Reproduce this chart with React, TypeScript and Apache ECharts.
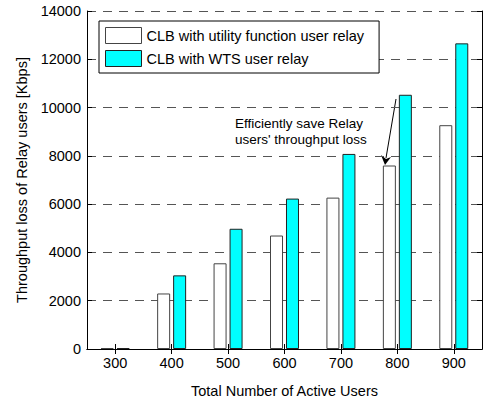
import React, { useEffect, useRef } from "react";
import * as echarts from "echarts";

const categories = ["300", "400", "500", "600", "700", "800", "900"];
const utilitySeries = [40, 2300, 3550, 4700, 6270, 7600, 9270];
const wtsSeries = [40, 3050, 4980, 6230, 8080, 10530, 12660];
const yTicks = { min: 0, max: 14000, interval: 2000 };
const seriesNames = ["CLB with utility function user relay", "CLB with WTS user relay"];
const annotationLines = ["Efficiently save Relay", "users' throughput loss"];

const FONT = 'Arial, "Liberation Sans", Helvetica, sans-serif';

export default function App() {
  const ref = useRef<HTMLDivElement>(null);
  useEffect(() => {
    if (!ref.current) return;
    const chart = echarts.init(ref.current, null, { renderer: "svg" });
    const axisLine = { show: true, lineStyle: { color: "#000", width: 1 } };
    chart.setOption({
      animation: false,
      backgroundColor: "#fff",
      textStyle: { fontFamily: FONT },
      grid: { left: 87, right: 2, top: 11, bottom: 44, containLabel: false },
      legend: {
        orient: "vertical",
        left: 99,
        top: 21,
        itemWidth: 36,
        itemHeight: 16,
        itemGap: 6,
        padding: [6, 15, 6, 6],
        borderColor: "#000",
        borderWidth: 1,
        borderRadius: 0,
        backgroundColor: "#fff",
        icon: "rect",
        textStyle: { fontFamily: FONT, fontSize: 14.5, color: "#000" },
        data: [
          { name: seriesNames[0], itemStyle: { color: "#fff", borderColor: "#444", borderWidth: 1 } },
          { name: seriesNames[1], itemStyle: { color: "#00ffff", borderColor: "#222", borderWidth: 1 } },
        ],
      },
      xAxis: [
        {
          type: "category",
          data: categories,
          position: "bottom",
          axisLine,
          axisTick: { show: true, inside: true, alignWithLabel: true, length: 5, lineStyle: { color: "#000" } },
          axisLabel: { color: "#000", fontSize: 14.5, fontFamily: FONT, margin: 6 },
          name: "Total Number of Active Users",
          nameLocation: "middle",
          nameGap: 34,
          nameTextStyle: { color: "#000", fontSize: 14.5, fontFamily: FONT },
          splitLine: { show: false },
        },
        {
          type: "category",
          data: categories,
          position: "top",
          axisLine,
          axisTick: { show: true, inside: true, alignWithLabel: true, length: 5, lineStyle: { color: "#000" } },
          axisLabel: { show: false },
          splitLine: { show: false },
        },
      ],
      yAxis: [
        {
          type: "value",
          min: yTicks.min,
          max: yTicks.max,
          interval: yTicks.interval,
          position: "left",
          axisLine,
          axisTick: { show: true, inside: true, length: 5, lineStyle: { color: "#000" } },
          axisLabel: {
            color: "#000",
            fontSize: 14.5,
            fontFamily: FONT,
            margin: 6,
            formatter: (v: number) => String(v),
          },
          splitLine: { show: true, lineStyle: { color: "#555", width: 1, type: [9, 7] } },
          name: "Throughput loss of Relay users [Kbps]",
          nameLocation: "middle",
          nameGap: 58,
          nameTextStyle: { color: "#000", fontSize: 14.5, fontFamily: FONT },
        },
        {
          type: "value",
          min: yTicks.min,
          max: yTicks.max,
          interval: yTicks.interval,
          position: "right",
          axisLine,
          axisTick: { show: true, inside: true, length: 5, lineStyle: { color: "#000" } },
          axisLabel: { show: false },
          splitLine: { show: false },
        },
      ],
      series: [
        {
          name: seriesNames[0],
          type: "bar",
          data: utilitySeries,
          barWidth: 13,
          barGap: "23%",
          itemStyle: { color: "#fff", borderColor: "#444", borderWidth: 1 },
        },
        {
          name: seriesNames[1],
          type: "bar",
          data: wtsSeries,
          barWidth: 13,
          barGap: "23%",
          itemStyle: { color: "#00ffff", borderColor: "#222", borderWidth: 1 },
        },
      ],
      graphic: [
        {
          type: "text",
          left: 235,
          top: 115,
          style: {
            text: annotationLines.join("\n"),
            font: `13.5px ${FONT}`,
            fill: "#000",
            lineHeight: 16,
          },
        },
        {
          type: "line",
          shape: { x1: 396, y1: 99, x2: 386, y2: 158 },
          style: { stroke: "#000", lineWidth: 1 },
        },
        {
          type: "polygon",
          shape: { points: [[385, 165], [381, 155], [386, 159], [391, 157]] },
          style: { fill: "#000" },
        },
      ],
    });
    return () => chart.dispose();
  }, []);
  return (
    <div
      ref={ref}
      style={{ position: "fixed", left: 0, top: 0, width: 484, height: 403 }}
    />
  );
}
